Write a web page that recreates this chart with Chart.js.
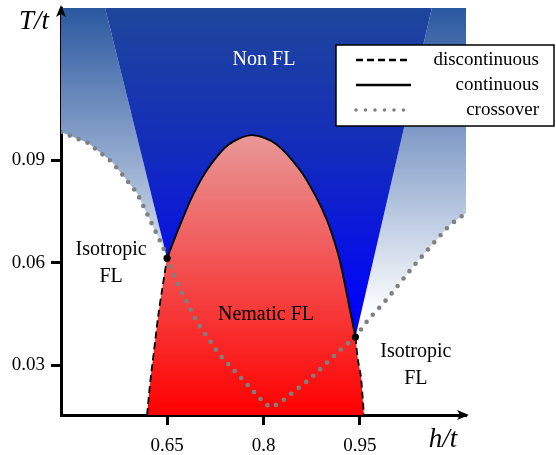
<!DOCTYPE html>
<html>
<head>
<meta charset="utf-8">
<script src="https://cdn.jsdelivr.net/npm/chart.js@4.4.0/dist/chart.umd.min.js"></script>
<style>
  html, body { margin: 0; padding: 0; background: #fff; }
</style>
</head>
<body>
<canvas id="phase" width="556" height="455"></canvas>
<script>
// Axis ranges and ticks
const hRange = [0.485, 1.115];
const tRange = [0.0154, 0.1345];
const xTickValues = [0.65, 0.8, 0.95];
const xTickLabels = ['0.65', '0.8', '0.95'];
const yTickValues = [0.03, 0.06, 0.09];
const yTickLabels = ['0.03', '0.06', '0.09'];

// Tricritical points (where the dome line changes from dashed to solid)
const tcH = [0.65, 0.943];
const tcT = [0.0613, 0.0382];

// Non FL wedge: h of its two edges at the top of the plot
const wedgeTopH = [0.5536, 1.0619];

// Nematic dome boundary, left foot -> top -> right foot
const domeH = [0.6189, 0.6236, 0.6298, 0.6360, 0.6422, 0.65, 0.6609, 0.6733, 0.6904, 0.7122, 0.7448, 0.7821,
               0.8194, 0.8567, 0.8801, 0.8987, 0.9143, 0.9220, 0.9329, 0.943, 0.9469, 0.9516, 0.9562];
const domeT = [0.0154, 0.0247, 0.0344, 0.0441, 0.0520, 0.0613, 0.0666, 0.0724, 0.0798, 0.0871, 0.0944, 0.0973,
               0.0947, 0.0871, 0.0798, 0.0724, 0.0637, 0.0578, 0.0476, 0.0382, 0.0315, 0.0265, 0.0154];

// Crossover line: left of the dome, inside the dome, right of the dome
const crossLeftH = [0.485, 0.5272, 0.5645, 0.5847, 0.6034, 0.6236, 0.6438];
const crossLeftT = [0.0982, 0.0950, 0.0894, 0.0847, 0.0803, 0.0724, 0.0645];
const crossMidH = [0.6687, 0.6966, 0.7308, 0.7728, 0.8023, 0.8132, 0.8272, 0.8738, 0.9174];
const crossMidT = [0.0528, 0.0426, 0.0332, 0.0247, 0.0186, 0.0177, 0.0192, 0.0262, 0.0341];
const crossRightH = [0.9625, 0.9935, 1.0309, 1.0588, 1.0899, 1.115];
const crossRightT = [0.0432, 0.0496, 0.0584, 0.0645, 0.0710, 0.0745];

// Region names
const regionText = [['Non FL'], ['Isotropic', 'FL'], ['Isotropic', 'FL'], ['Nematic FL']];
const regionAnchorH = [0.8008, 0.563, 1.037, 0.8039];
const regionAnchorT = [0.1193, 0.0637, 0.0338, 0.0446];
const regionColor = ['#ffffff', '#000000', '#000000', '#000000'];

const legendNames = ['discontinuous', 'continuous', 'crossover'];

const serif = '"Liberation Serif", "DejaVu Serif", serif';

function pts(hs, ts) {
  return hs.map((h, i) => ({ x: h, y: ts[i] }));
}

// vertical gradient, stops given as [T, colour]
function vGradient(chart, stops) {
  const { ctx, chartArea, scales } = chart;
  if (!chartArea) return 'rgba(0,0,0,0)';
  const y0 = scales.y.getPixelForValue(stops[0][0]);
  const y1 = scales.y.getPixelForValue(stops[stops.length - 1][0]);
  const g = ctx.createLinearGradient(0, y0, 0, y1);
  stops.forEach((s) => {
    g.addColorStop((scales.y.getPixelForValue(s[0]) - y0) / (y1 - y0), s[1]);
  });
  return g;
}

const blueStops = [[tRange[1], 'rgb(30,70,155)'], [0.09, 'rgb(18,42,190)'], [0.043, 'rgb(0,0,255)']];
const lightStops = [[tRange[1], 'rgb(42,88,160)'], [0.045, 'rgb(255,255,255)']];
const redStops = [[0.0973, 'rgb(232,152,152)'], [0.0154, 'rgb(255,0,0)']];

// polygons built from the curves above
const tcLeft = { x: tcH[0], y: tcT[0] };
const tcRight = { x: tcH[1], y: tcT[1] };
const crossLeft = pts(crossLeftH, crossLeftT);
const crossRight = pts(crossRightH, crossRightT);
const dome = pts(domeH, domeT);
const iL = domeH.indexOf(tcH[0]);
const iR = domeH.indexOf(tcH[1]);

const lightLeftPoly = [{ x: hRange[0], y: tRange[1] }, { x: wedgeTopH[0], y: tRange[1] }, tcLeft]
  .concat(crossLeft.slice().reverse());
const lightRightPoly = [{ x: wedgeTopH[1], y: tRange[1] }, { x: hRange[1], y: tRange[1] }]
  .concat(crossRight.slice().reverse(), [tcRight]);
const wedgePoly = [{ x: wedgeTopH[0], y: tRange[1] }, { x: wedgeTopH[1], y: tRange[1] }, tcRight, tcLeft];
const crossAll = crossLeft.concat([tcLeft], pts(crossMidH, crossMidT), [tcRight], crossRight);

const dashStyle = [7, 4];

const datasets = [
  { data: lightLeftPoly, fill: 'shape', borderWidth: 0, pointRadius: 0, tension: 0, order: 9,
    backgroundColor: (c) => vGradient(c.chart, lightStops) },
  { data: lightRightPoly, fill: 'shape', borderWidth: 0, pointRadius: 0, tension: 0, order: 9,
    backgroundColor: (c) => vGradient(c.chart, lightStops) },
  { data: wedgePoly, fill: 'shape', borderWidth: 0, pointRadius: 0, tension: 0, order: 8,
    backgroundColor: (c) => vGradient(c.chart, blueStops) },
  { data: dome, fill: 'shape', borderWidth: 0, pointRadius: 0, tension: 0.3, order: 7,
    backgroundColor: (c) => vGradient(c.chart, redStops) },
  { label: 'crossover', data: crossAll, fill: false, pointRadius: 0, tension: 0, order: 5,
    borderColor: '#808080', borderWidth: 4.6, borderDash: [0, 9.5], borderCapStyle: 'round' },
  { label: 'discontinuous', data: dome.slice(0, iL + 1), fill: false, pointRadius: 0, tension: 0.3, order: 4,
    borderColor: '#000', borderWidth: 1.8, borderDash: dashStyle },
  { data: dome.slice(iR), fill: false, pointRadius: 0, tension: 0.3, order: 4,
    borderColor: '#000', borderWidth: 1.8, borderDash: dashStyle },
  { label: 'continuous', data: dome.slice(iL, iR + 1), fill: false, pointRadius: 0, tension: 0.3, order: 3,
    borderColor: '#000', borderWidth: 1.8 },
  { data: [tcLeft, tcRight], showLine: false, pointRadius: 3.6, order: 1,
    pointBackgroundColor: '#000', pointBorderColor: '#000', pointBorderWidth: 0 }
];

// axis arrows, axis names, region names
const decorations = {
  id: 'decorations',
  afterDatasetsDraw(chart) {
    const { ctx, scales: { x, y } } = chart;
    ctx.save();
    ctx.font = '20px ' + serif;
    ctx.textAlign = 'center';
    ctx.textBaseline = 'middle';
    regionText.forEach((lines, i) => {
      ctx.fillStyle = regionColor[i];
      lines.forEach((line, j) => {
        ctx.fillText(line, x.getPixelForValue(regionAnchorH[i]), y.getPixelForValue(regionAnchorT[i]) + j * 27);
      });
    });
    ctx.restore();
  },
  afterDraw(chart) {
    const { ctx, chartArea: a } = chart;
    ctx.save();
    ctx.fillStyle = '#000';
    // x arrow
    ctx.beginPath();
    ctx.moveTo(a.right + 3, a.bottom);
    ctx.lineTo(a.right - 9, a.bottom - 5);
    ctx.lineTo(a.right - 6, a.bottom);
    ctx.lineTo(a.right - 9, a.bottom + 5);
    ctx.closePath();
    ctx.fill();
    // y arrow
    ctx.beginPath();
    ctx.moveTo(a.left, a.top - 3);
    ctx.lineTo(a.left - 5, a.top + 9);
    ctx.lineTo(a.left, a.top + 6);
    ctx.lineTo(a.left + 5, a.top + 9);
    ctx.closePath();
    ctx.fill();
    // axis names
    ctx.font = 'italic 27px ' + serif;
    ctx.textBaseline = 'middle';
    ctx.textAlign = 'center';
    ctx.fillText('T/t', 34, 22);
    ctx.fillText('h/t', 443, 440);

    // legend
    ctx.fillStyle = '#fff';
    ctx.fillRect(336, 45, 218, 81);
    ctx.strokeStyle = '#000';
    ctx.lineWidth = 1.5;
    ctx.strokeRect(336, 45, 218, 81);
    ctx.font = '19px ' + serif;
    ctx.textAlign = 'right';
    legendNames.forEach((name, i) => {
      const ds = chart.data.datasets.find((d) => d.label === name);
      const ly = 60 + i * 25;
      ctx.beginPath();
      ctx.setLineDash(ds.borderDash || []);
      ctx.lineCap = ds.borderCapStyle || 'butt';
      ctx.lineWidth = ds.borderWidth + (name === 'crossover' ? -1 : 0.8);
      ctx.strokeStyle = ds.borderColor;
      ctx.moveTo(356, ly);
      ctx.lineTo(411, ly);
      ctx.stroke();
      ctx.setLineDash([]);
      ctx.fillStyle = '#000';
      ctx.fillText(name, 539, ly);
    });
    ctx.restore();
  }
};

const axisCommon = {
  type: 'linear',
  z: 1,
  grid: { display: true, drawOnChartArea: false, drawTicks: true, tickLength: 10, tickWidth: 3, tickColor: '#000' },
  border: { display: true, color: '#000', width: 3 }
};

new Chart(document.getElementById('phase'), {
  type: 'line',
  data: { datasets: datasets },
  options: {
    responsive: false,
    animation: false,
    layout: { padding: { left: 0, top: 8, right: 90, bottom: 0 } },
    plugins: { legend: { display: false }, tooltip: { enabled: false } },
    scales: {
      x: Object.assign({}, axisCommon, {
        position: 'bottom',
        min: hRange[0],
        max: hRange[1],
        afterBuildTicks: (s) => { s.ticks = xTickValues.map((v) => ({ value: v })); },
        afterFit: (s) => { s.height = 40; s.paddingLeft = 0; s.paddingRight = 0; },
        ticks: {
          padding: 10,
          color: '#000',
          font: { family: serif, size: 19 },
          callback: (v) => xTickLabels[xTickValues.indexOf(v)]
        }
      }),
      y: Object.assign({}, axisCommon, {
        position: 'left',
        min: tRange[0],
        max: tRange[1],
        afterBuildTicks: (s) => { s.ticks = yTickValues.map((v) => ({ value: v })); },
        afterFit: (s) => { s.width = 61; s.paddingTop = 0; s.paddingBottom = 0; },
        ticks: {
          padding: 6,
          color: '#000',
          font: { family: serif, size: 19 },
          callback: (v) => yTickLabels[yTickValues.indexOf(v)]
        }
      })
    }
  },
  plugins: [decorations]
});
</script>
</body>
</html>
